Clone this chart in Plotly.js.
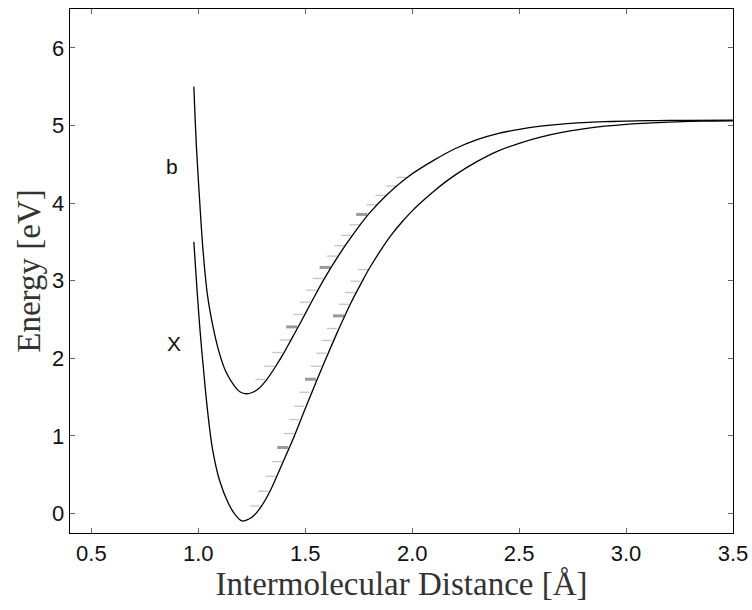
<!DOCTYPE html>
<html>
<head>
<meta charset="utf-8">
<script src="https://cdn.plot.ly/plotly-3.0.1.min.js"></script>
<style>html,body{margin:0;padding:0;background:#fff;}</style>
</head>
<body>
<div id="chart" style="width:752px;height:610px;"></div>
<script>
// ---- data ----
// ground state X potential curve
var xStateR = [0.979, 0.994, 1.008, 1.0245, 1.043, 1.067, 1.099, 1.141, 1.174, 1.204, 1.235, 1.260, 1.296, 1.335, 1.367, 1.397, 1.452, 1.501, 1.556, 1.605, 1.654, 1.711, 1.766, 1.800, 1.850, 1.900, 1.950, 2.000, 2.050, 2.100, 2.150, 2.200, 2.300, 2.400, 2.500, 2.600, 2.700, 2.800, 2.900, 3.000, 3.100, 3.200, 3.300, 3.400, 3.500];
var xStateE = [3.50, 2.88, 2.36, 1.85, 1.33, 0.82, 0.43, 0.13, -0.02, -0.095, -0.073, -0.024, 0.098, 0.287, 0.481, 0.670, 1.02, 1.36, 1.73, 2.05, 2.36, 2.70, 2.99, 3.16, 3.38, 3.58, 3.75, 3.90, 4.03, 4.15, 4.26, 4.36, 4.53, 4.67, 4.77, 4.85, 4.91, 4.955, 4.99, 5.015, 5.03, 5.043, 5.052, 5.057, 5.06];
// excited b state potential curve
var bStateR = [0.979, 0.992, 1.006, 1.022, 1.043, 1.067, 1.095, 1.130, 1.170, 1.196, 1.224, 1.252, 1.281, 1.320, 1.362, 1.400, 1.436, 1.470, 1.529, 1.590, 1.657, 1.722, 1.797, 1.883, 1.981, 2.100, 2.200, 2.300, 2.400, 2.500, 2.600, 2.700, 2.800, 2.900, 3.000, 3.150, 3.300, 3.500];
var bStateE = [5.50, 4.68, 4.04, 3.39, 2.81, 2.43, 2.10, 1.82, 1.64, 1.567, 1.544, 1.560, 1.607, 1.727, 1.898, 2.07, 2.25, 2.42, 2.725, 3.03, 3.33, 3.59, 3.86, 4.11, 4.34, 4.55, 4.70, 4.815, 4.895, 4.95, 4.99, 5.018, 5.036, 5.048, 5.056, 5.063, 5.066, 5.068];
// vibrational levels: energy and right turning point
var xLevelE = [0.098, 0.287, 0.481, 0.670, 0.851, 1.031, 1.211, 1.383, 1.563, 1.731, 1.898, 2.066, 2.230, 2.384, 2.547, 2.697, 2.848, 2.993, 3.144];
var xLevelR = [1.290, 1.328, 1.361, 1.391, 1.420, 1.447, 1.472, 1.495, 1.520, 1.550, 1.573, 1.599, 1.623, 1.648, 1.681, 1.705, 1.733, 1.760, 1.794];
var bLevelE = [1.727, 1.898, 2.075, 2.237, 2.405, 2.565, 2.723, 2.878, 3.029, 3.171, 3.317, 3.450, 3.584, 3.720, 3.854, 3.978, 4.099, 4.219, 4.331];
var bLevelR = [1.314, 1.356, 1.392, 1.428, 1.462, 1.490, 1.521, 1.552, 1.582, 1.618, 1.649, 1.683, 1.714, 1.755, 1.789, 1.833, 1.875, 1.926, 1.973];
var highlightedLevels = [4, 9, 14];
var stateLabels = ["b", "X"];
var stateLabelR = [0.879, 0.885];
var stateLabelE = [4.47, 2.19];
var xTicks = [0.5, 1.0, 1.5, 2.0, 2.5, 3.0, 3.5];
var yTicks = [0, 1, 2, 3, 4, 5, 6];

// ---- build traces ----
var markLen = 0.047;
function levelSegments(E, R, wantThick) {
  var xs = [], ys = [];
  for (var i = 0; i < E.length; i++) {
    var isThick = highlightedLevels.indexOf(i) >= 0;
    if (isThick !== wantThick) continue;
    xs.push(R[i] - markLen - (isThick ? 0.004 : 0), R[i], null);
    ys.push(E[i], E[i], null);
  }
  return {x: xs, y: ys};
}
var traces = [];
[[xLevelE, xLevelR], [bLevelE, bLevelR]].forEach(function (lv) {
  var thin = levelSegments(lv[0], lv[1], false);
  var thick = levelSegments(lv[0], lv[1], true);
  traces.push({x: thin.x, y: thin.y, mode: 'lines', line: {color: '#c4c4c4', width: 1.3}, hoverinfo: 'skip', showlegend: false, connectgaps: false});
  traces.push({x: thick.x, y: thick.y, mode: 'lines', line: {color: '#9a9a9a', width: 3}, hoverinfo: 'skip', showlegend: false, connectgaps: false});
});
traces.push({x: xStateR, y: xStateE, mode: 'lines', line: {color: 'black', width: 1.3, shape: 'spline', smoothing: 1}, showlegend: false});
traces.push({x: bStateR, y: bStateE, mode: 'lines', line: {color: 'black', width: 1.3, shape: 'spline', smoothing: 1}, showlegend: false});

var annotations = stateLabels.map(function (t, i) {
  return {x: stateLabelR[i], y: stateLabelE[i], text: t, showarrow: false, xref: 'x', yref: 'y',
          font: {family: 'Liberation Sans, Arial, sans-serif', size: 21, color: '#111'}};
});

var axisCommon = {
  showgrid: false, zeroline: false, showline: true, linecolor: 'black', linewidth: 1.3,
  mirror: 'ticks', ticks: 'inside', ticklen: 5, tickwidth: 1, tickcolor: '#666',
  tickfont: {family: 'Liberation Sans, Arial, sans-serif', size: 22, color: '#111'}
};
var layout = {
  width: 752, height: 610,
  margin: {l: 70, r: 19, t: 9, b: 77},
  paper_bgcolor: 'white', plot_bgcolor: 'white',
  showlegend: false,
  xaxis: Object.assign({}, axisCommon, {
    range: [0.4, 3.5], tickvals: xTicks, ticktext: xTicks.map(function (v) { return v.toFixed(1); }),
    title: {text: 'Intermolecular Distance [Å]', standoff: 6,
            font: {family: 'Liberation Serif, Times New Roman, serif', size: 33, color: '#333'}}
  }),
  yaxis: Object.assign({}, axisCommon, {
    range: [-0.25, 6.5], tickvals: yTicks, ticktext: yTicks.map(String),
    title: {text: 'Energy [eV]', standoff: 1,
            font: {family: 'Liberation Serif, Times New Roman, serif', size: 33, color: '#333'}}
  }),
  annotations: annotations
};
Plotly.newPlot('chart', traces, layout, {displayModeBar: false, staticPlot: true});
</script>
</body>
</html>
